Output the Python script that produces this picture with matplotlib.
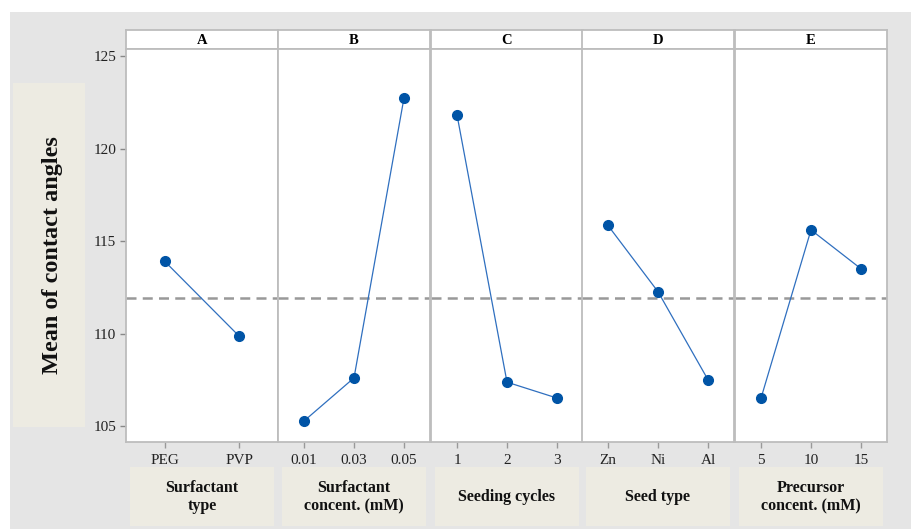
import matplotlib
matplotlib.use("Agg")
import matplotlib.pyplot as plt
from matplotlib.patches import Rectangle

plt.rcParams['font.family'] = ['Liberation Serif', 'DejaVu Serif']

# factors, levels and main-effect means
factors = ['A', 'B', 'C', 'D', 'E']
factor_names = ['Surfactant\ntype', 'Surfactant\nconcent. (mM)', 'Seeding cycles',
                'Seed type', 'Precursor\nconcent. (mM)']
levels = [['PEG', 'PVP'],
          ['0.01', '0.03', '0.05'],
          ['1', '2', '3'],
          ['Zn', 'Ni', 'Al'],
          ['5', '10', '15']]
means = [[113.9, 109.85],
         [105.27, 107.6, 122.74],
         [121.82, 107.37, 106.51],
         [115.84, 112.26, 107.5],
         [106.5, 115.6, 113.5]]
grand_mean = 111.9
yticks = [105, 110, 115, 120, 125]

W, H = 912, 529
fig = plt.figure(figsize=(W / 100, H / 100), dpi=100, facecolor='white')


def fx(px):
    return px / W


def fy(py):
    return 1 - py / H


# gray background
fig.patches.append(Rectangle((fx(10), 0), 1 - fx(10), fy(12), transform=fig.transFigure,
                             facecolor='#e5e5e5', edgecolor='none', zorder=-2))

box_col = '#edebe2'
frame_col = '#bdbdbd'
line_col = '#2f6fbf'
marker_col = '#0054a6'

# y label box
fig.patches.append(Rectangle((fx(13), fy(427)), fx(85) - fx(13), fy(83) - fy(427),
                             transform=fig.transFigure, facecolor=box_col,
                             edgecolor='none', zorder=-1))
fig.text(fx(53), fy(255), 'Mean of contact angles', rotation=90, ha='center', va='center',
         fontsize=17.5, fontweight='bold', color='#111111')

lefts = [126, 278, 431, 582, 735]
pw = 152
top_hdr, top_ax, bot_ax = 30, 49, 442
ylim = (104.135, 125.38)

for i, f in enumerate(factors):
    x0 = lefts[i]
    # header strip
    hax = fig.add_axes([fx(x0), fy(top_ax), fx(pw), fy(top_hdr) - fy(top_ax)])
    hax.set_facecolor('white')
    hax.set_xticks([])
    hax.set_yticks([])
    for s in hax.spines.values():
        s.set_color(frame_col)
        s.set_linewidth(1.3)
    hax.text(0.5, 0.45, f, ha='center', va='center', fontsize=10.5, fontweight='bold',
             transform=hax.transAxes)

    ax = fig.add_axes([fx(x0), fy(bot_ax), fx(pw), fy(top_ax) - fy(bot_ax)])
    ax.set_facecolor('white')
    n = len(levels[i])
    xs = list(range(1, n + 1))
    ax.axhline(grand_mean, color='#999999', lw=1.8, ls=(0, (4, 2.5)), zorder=1)
    ax.plot(xs, means[i], color=line_col, lw=0.9, zorder=2)
    ax.plot(xs, means[i], ls='none', marker='o', ms=7,
            markerfacecolor=marker_col, markeredgecolor=marker_col, zorder=3)
    ax.set_xlim(0.48, n + 0.52)
    ax.set_ylim(*ylim)
    ax.set_xticks(xs)
    ax.set_xticklabels(levels[i], fontsize=11, color='#222222')
    ax.set_yticks(yticks)
    if i == 0:
        ax.set_yticklabels([str(v) for v in yticks], fontsize=11, color='#222222')
        ax.tick_params(axis='y', length=4, width=1, color='#888888', pad=3)
    else:
        ax.tick_params(axis='y', left=False, labelleft=False)
    ax.tick_params(axis='x', length=4, width=1, color='#999999', pad=5)
    for s in ax.spines.values():
        s.set_color(frame_col)
        s.set_linewidth(1.3)

    # factor name box below
    bx0, bx1 = x0 + 4, x0 + pw - 4
    fig.patches.append(Rectangle((fx(bx0), fy(526)), fx(bx1) - fx(bx0), fy(467) - fy(526),
                                 transform=fig.transFigure, facecolor=box_col,
                                 edgecolor='none', zorder=-1))
    fig.text(fx((bx0 + bx1) / 2), fy(497), factor_names[i], ha='center', va='center',
             fontsize=11.5, fontweight='bold', color='#111111', linespacing=1.25)

fig.savefig('out.png', dpi=100, facecolor=fig.get_facecolor())
